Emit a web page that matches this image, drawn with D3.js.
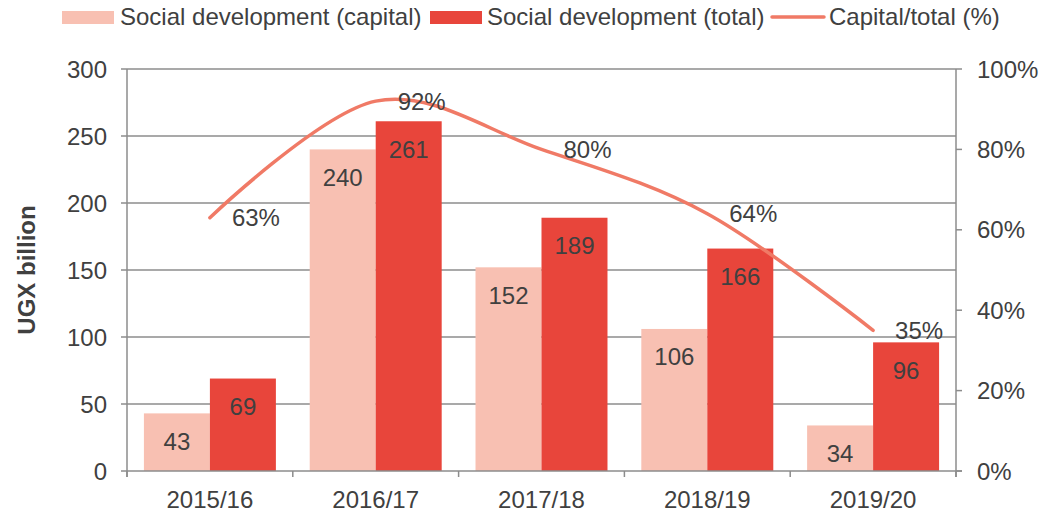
<!DOCTYPE html>
<meta charset="utf-8">
<script src="https://cdn.jsdelivr.net/npm/d3@7"></script>
<style>
  body { margin: 0; background: #fff; }
  text { font-family: "Liberation Sans", Arial, sans-serif; fill: #404040; font-size: 24px; }
</style>
<svg></svg>
<script>
// chart values
var years = ["2015/16", "2016/17", "2017/18", "2018/19", "2019/20"];
var capital = [43, 240, 152, 106, 34];
var total = [69, 261, 189, 166, 96];
var share = [63, 92, 80, 64, 35];
var leftTicks = [0, 50, 100, 150, 200, 250, 300];
var rightTicks = [0, 20, 40, 60, 80, 100];

var W = 1045, H = 515;
var LEFT = 127, RIGHT = 956, TOP = 69, BOTTOM = 471;
var LIGHT = "#f8c0b2", DARK = "#e8453b", LINE = "#f07a66", GRID = "#8c8c8c";

var svg = d3.select("svg").attr("width", W).attr("height", H);

var x = d3.scaleBand().domain(years).range([LEFT, RIGHT]);
var y = d3.scaleLinear().domain([0, 300]).range([BOTTOM, TOP]);
var y2 = d3.scaleLinear().domain([0, 100]).range([BOTTOM, TOP]);
var barW = x.bandwidth() * 0.398;

// grid lines + left ticks
svg.append("g").selectAll("line")
  .data(leftTicks.slice(1))
  .enter().append("line")
  .attr("x1", LEFT - 6).attr("x2", RIGHT)
  .attr("y1", function(d){ return y(d); })
  .attr("y2", function(d){ return y(d); })
  .attr("stroke", GRID).attr("stroke-width", 1.5);

svg.append("g").selectAll("text")
  .data(leftTicks)
  .enter().append("text")
  .attr("x", LEFT - 20)
  .attr("y", function(d){ return y(d) + 8.5; })
  .attr("text-anchor", "end")
  .text(function(d){ return d; });

// bars
var g = svg.append("g");
g.selectAll("rect.cap")
  .data(capital)
  .enter().append("rect")
  .attr("class", "cap")
  .attr("x", function(d, i){ return x(years[i]) + x.bandwidth()/2 - barW; })
  .attr("y", function(d){ return y(d); })
  .attr("width", barW)
  .attr("height", function(d){ return BOTTOM - y(d); })
  .attr("fill", LIGHT);

g.selectAll("rect.tot")
  .data(total)
  .enter().append("rect")
  .attr("class", "tot")
  .attr("x", function(d, i){ return x(years[i]) + x.bandwidth()/2; })
  .attr("y", function(d){ return y(d); })
  .attr("width", barW)
  .attr("height", function(d){ return BOTTOM - y(d); })
  .attr("fill", DARK);

g.selectAll("text.cap")
  .data(capital)
  .enter().append("text")
  .attr("class", "cap")
  .attr("x", function(d, i){ return x(years[i]) + x.bandwidth()/2 - barW/2; })
  .attr("y", function(d){ return y(d) + 36.5; })
  .attr("text-anchor", "middle")
  .text(function(d){ return d; });

g.selectAll("text.tot")
  .data(total)
  .enter().append("text")
  .attr("class", "tot")
  .attr("x", function(d, i){ return x(years[i]) + x.bandwidth()/2 + barW/2; })
  .attr("y", function(d){ return y(d) + 36.5; })
  .attr("text-anchor", "middle")
  .text(function(d){ return d; });

// axes lines
svg.append("line").attr("x1", LEFT).attr("x2", LEFT).attr("y1", TOP).attr("y2", BOTTOM + 6)
  .attr("stroke", GRID).attr("stroke-width", 1.5);
svg.append("line").attr("x1", RIGHT).attr("x2", RIGHT).attr("y1", TOP).attr("y2", BOTTOM + 6)
  .attr("stroke", GRID).attr("stroke-width", 1.5);
svg.append("line").attr("x1", LEFT - 6).attr("x2", RIGHT + 6).attr("y1", BOTTOM).attr("y2", BOTTOM)
  .attr("stroke", GRID).attr("stroke-width", 1.5);

// x ticks at category edges
var edges = years.map(function(d){ return x(d); }).concat([RIGHT]);
svg.append("g").selectAll("line")
  .data(edges)
  .enter().append("line")
  .attr("x1", function(d){ return d; }).attr("x2", function(d){ return d; })
  .attr("y1", BOTTOM).attr("y2", BOTTOM + 6)
  .attr("stroke", GRID).attr("stroke-width", 1.5);

svg.append("g").selectAll("text")
  .data(years)
  .enter().append("text")
  .attr("x", function(d){ return x(d) + x.bandwidth()/2; })
  .attr("y", BOTTOM + 37)
  .attr("text-anchor", "middle")
  .text(function(d){ return d; });

// right axis
svg.append("g").selectAll("line")
  .data(rightTicks)
  .enter().append("line")
  .attr("x1", RIGHT).attr("x2", RIGHT + 6)
  .attr("y1", function(d){ return y2(d); })
  .attr("y2", function(d){ return y2(d); })
  .attr("stroke", GRID).attr("stroke-width", 1.5);

svg.append("g").selectAll("text")
  .data(rightTicks)
  .enter().append("text")
  .attr("x", RIGHT + 21)
  .attr("y", function(d){ return y2(d) + 8.5; })
  .text(function(d){ return d + "%"; });

// share line
var line = d3.line()
  .x(function(d, i){ return x(years[i]) + x.bandwidth()/2; })
  .y(function(d){ return y2(d); })
  .curve(d3.curveCatmullRom.alpha(0));

svg.append("path")
  .datum(share)
  .attr("d", line)
  .attr("fill", "none")
  .attr("stroke", LINE)
  .attr("stroke-width", 3.5)
  .attr("stroke-linecap", "round");

svg.append("g").selectAll("text")
  .data(share)
  .enter().append("text")
  .attr("x", function(d, i){ return x(years[i]) + x.bandwidth()/2 + 46; })
  .attr("y", function(d){ return y2(d) + 8.5; })
  .attr("text-anchor", "middle")
  .text(function(d){ return d + "%"; });

// y title
svg.append("text")
  .attr("transform", "translate(35," + ((TOP + BOTTOM)/2) + ") rotate(-90)")
  .attr("text-anchor", "middle")
  .style("font-weight", "bold")
  .text("UGX billion");

// legend
var leg = svg.append("g");
leg.append("rect").attr("x", 62).attr("y", 11).attr("width", 52).attr("height", 13).attr("fill", LIGHT);
leg.append("text").attr("x", 120).attr("y", 25).text("Social development (capital)");
leg.append("rect").attr("x", 430).attr("y", 11).attr("width", 52).attr("height", 13).attr("fill", DARK);
leg.append("text").attr("x", 487).attr("y", 25).text("Social development (total)");
leg.append("line").attr("x1", 772).attr("x2", 824).attr("y1", 17).attr("y2", 17)
  .attr("stroke", LINE).attr("stroke-width", 3.5).attr("stroke-linecap", "round");
leg.append("text").attr("x", 829).attr("y", 25).text("Capital/total (%)");
</script>
